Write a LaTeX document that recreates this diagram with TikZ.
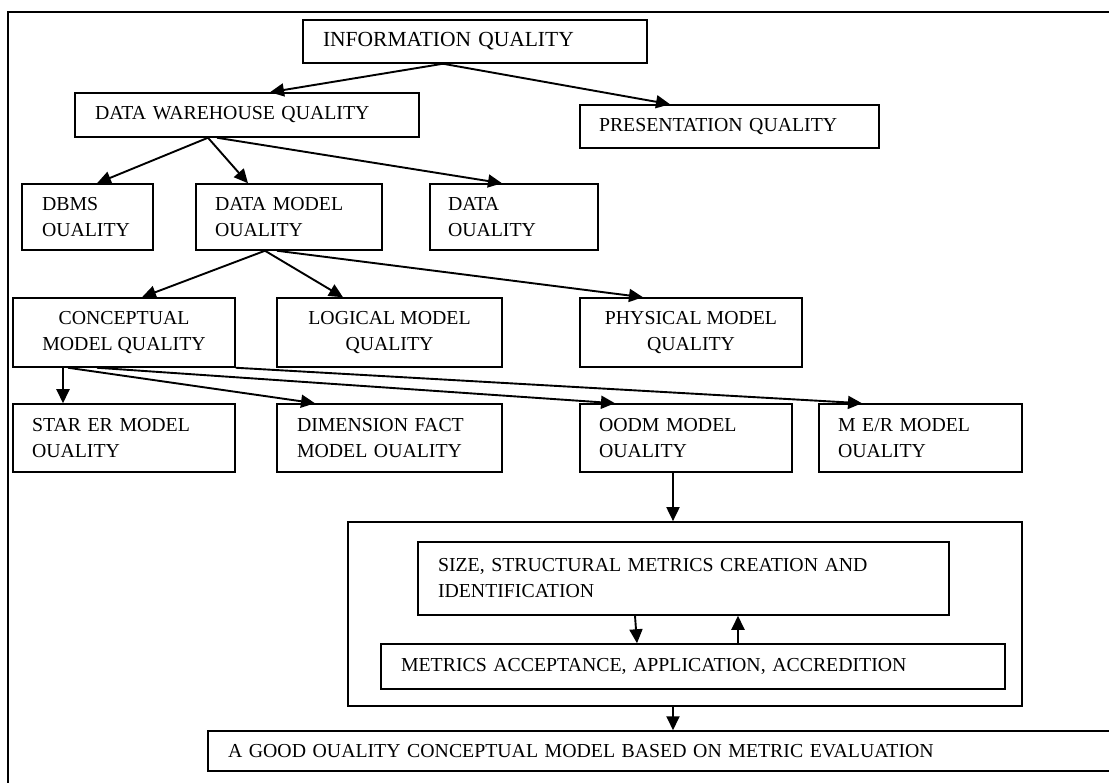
\documentclass[tikz,border=0pt]{standalone}
\usepackage{fontspec}
\setmainfont{Liberation Serif}
\usetikzlibrary{arrows.meta}
\begin{document}
\begin{tikzpicture}[x=1pt,y=-1pt,
  box/.style={draw, line width=1.5pt, rectangle, font=\fontsize{19.8}{26}\selectfont},
  lbox/.style={box, align=left, inner xsep=#1, inner ysep=0pt},
  cbox/.style={box, align=center, inner sep=0pt},
  arr/.style={line width=1.9pt, -{Triangle[length=14pt,width=13pt]}}]
\useasboundingbox (0,0) rectangle (1109,783);
% outer frame, running off the page on the right and bottom
\draw[line width=2pt] (8,800) -- (8,12) -- (1130,12);

% boxes
\node[lbox=20pt, minimum width=344pt, minimum height=43pt, text width=304pt, font=\fontsize{21.5}{26}\selectfont] (iq) at (475,41.5) {INFORMATION QUALITY};
\node[lbox=20pt, minimum width=344pt, minimum height=44pt, text width=304pt] (dw) at (247,115) {DATA WAREHOUSE QUALITY};
\node[lbox=19pt, minimum width=299pt, minimum height=43pt, text width=261pt] (pres) at (729.5,126.5) {PRESENTATION QUALITY};
\node[lbox=20pt, minimum width=131pt, minimum height=66pt, text width=91pt] (dbms) at (87.5,217) {DBMS\\OUALITY};
\node[lbox=19pt, minimum width=186pt, minimum height=66pt, text width=148pt] (dmq) at (289,217) {DATA MODEL\\OUALITY};
\node[lbox=18pt, minimum width=168pt, minimum height=66pt, text width=132pt] (dq) at (514,217) {DATA\\OUALITY};
\node[cbox, minimum width=222pt, minimum height=69pt] (cmq) at (124,332.5) {CONCEPTUAL\\MODEL QUALITY};
\node[cbox, minimum width=225pt, minimum height=69pt] (lmq) at (389.5,332.5) {LOGICAL MODEL\\QUALITY};
\node[cbox, minimum width=222pt, minimum height=69pt] (pmq) at (691,332.5) {PHYSICAL MODEL\\QUALITY};
\node[lbox=19pt, minimum width=222pt, minimum height=68pt, text width=184pt] (star) at (124,438) {STAR ER MODEL\\OUALITY};
\node[lbox=20pt, minimum width=225pt, minimum height=68pt, text width=185pt] (dfm) at (389.5,438) {DIMENSION FACT\\MODEL OUALITY};
\node[lbox=19pt, minimum width=212pt, minimum height=68pt, text width=174pt] (oodm) at (686,438) {OODM MODEL\\OUALITY};
\node[lbox=19pt, minimum width=203pt, minimum height=68pt, text width=165pt] (mer) at (920.5,438) {M E/R MODEL\\OUALITY};
\node[draw, line width=1.7pt, minimum width=674pt, minimum height=184pt, inner sep=0pt] (cont) at (685,614) {};
\node[lbox=20pt, minimum width=531pt, minimum height=73pt, text width=491pt] (size) at (683.5,578.5) {SIZE, STRUCTURAL METRICS CREATION AND\\IDENTIFICATION};
\node[lbox=20pt, minimum width=624pt, minimum height=45pt, text width=584pt] (metr) at (693,666.5) {METRICS ACCEPTANCE, APPLICATION, ACCREDITION};
\node[lbox=20pt, minimum width=907pt, minimum height=40pt, text width=867pt] (good) at (661.5,751) {A GOOD OUALITY CONCEPTUAL MODEL BASED ON METRIC EVALUATION};

% connectors
\draw[arr] ([xshift=-32pt]iq.south) -- ([xshift=23pt]dw.north);
\draw[arr] ([xshift=-32pt]iq.south) -- ([xshift=-59.5pt]pres.north);
\draw[arr] ([xshift=-39pt]dw.south) -- ([xshift=9.5pt]dbms.north);
\draw[arr] ([xshift=-39pt]dw.south) -- ([xshift=-41pt]dmq.north);
\draw[arr] ([xshift=-30pt]dw.south) -- ([xshift=-12pt]dq.north);
\draw[arr] ([xshift=-24pt]dmq.south) -- ([xshift=18pt]cmq.north);
\draw[arr] ([xshift=-24pt]dmq.south) -- ([xshift=-46.5pt]lmq.north);
\draw[arr] ([xshift=-12pt]dmq.south) -- ([xshift=-48pt]pmq.north);
\draw[arr] ([xshift=-61pt]cmq.south) -- ([xshift=-61pt]star.north);
\draw[arr] ([xshift=-56pt]cmq.south) -- ([xshift=-74.5pt]dfm.north);
\draw[arr] ([xshift=-27pt]cmq.south) -- ([xshift=-71pt]oodm.north);
\draw[arr] (cmq.south east) -- ([xshift=-58.5pt]mer.north);
\draw[arr] ([xshift=-13pt]oodm.south) -- ([xshift=-12pt]cont.north);
\draw[arr] ([xshift=-48.5pt]size.south) -- ([xshift=-56pt]metr.north);
\draw[arr] ([xshift=45pt]metr.north) -- ([xshift=54.5pt]size.south);
\draw[arr] ([xshift=-12pt]cont.south) -- ([xshift=11.5pt]good.north);
\end{tikzpicture}
\end{document}
